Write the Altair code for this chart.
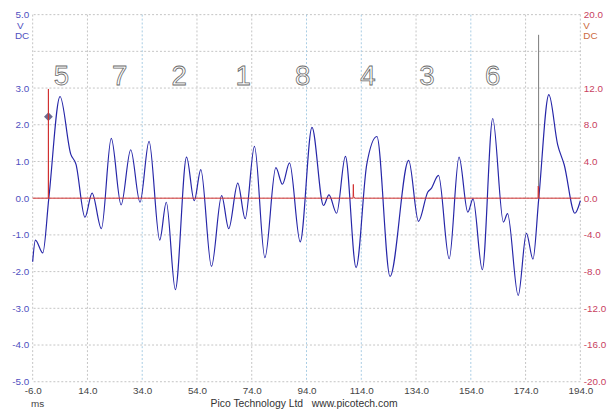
import altair as alt
import pandas as pd

# ---- data ----
wave_t = [-6.0, -5.0, -2.3, -0.1, 4.0, 7.9, 9.8, 13.1, 15.7, 19.1, 22.7, 26.3, 29.8, 33.2,
          36.5, 40.4, 42.8, 46.1, 50.2, 53.0, 55.4, 59.3, 63.0, 65.6, 68.9, 71.6, 75.0, 78.8,
          82.8, 85.2, 87.8, 91.7, 96.0, 100.2, 102.2, 105.0, 108.2, 112.1, 116.0, 119.7, 124.5,
          131.3, 134.9, 138.3, 139.5, 142.2, 146.1, 149.7, 152.9, 154.8, 158.2, 162.0, 165.9,
          167.4, 171.3, 174.3, 176.7, 178.8, 182.5, 185.7, 188.1, 192.0, 194.0]
wave_v = [-1.73, -1.14, -1.49, 0.0, 2.77, 1.20, 0.93, -0.52, 0.14, -0.83, 1.63, -0.18, 1.32, -0.11,
          1.55, -1.14, -0.11, -2.49, 1.12, -0.07, 0.78, -1.86, 0.07, -0.83, 0.41, -0.56, 1.41, -1.62,
          0.83, 0.38, 0.96, -1.19, 1.93, -0.20, 0.09, -0.41, 1.14, -1.89, 0.92, 1.68, -2.13,
          1.03, -0.63, 0.17, 0.26, 0.62, -1.65, 1.12, -0.38, -0.02, -1.95, 2.17, -0.65,
          -0.42, -2.65, -0.96, -1.66, -0.02, 2.82, 1.46, 0.91, -0.41, -0.07]

red_t = [-6.0, -0.3, -0.25, -0.2, 111.0, 111.1, 111.2, 111.6, 178.55, 178.6, 178.75, 178.85, 194.0]
red_v = [0.0, 0.0, 11.9, 0.0, 0.0, 1.5, 0.2, 0.0, 0.0, 1.3, 1.2, 0.0, 0.0]

digit_labels = ["5", "7", "2", "1", "8", "4", "3", "6"]
digit_t = [4.5, 25.8, 47.5, 70.9, 92.6, 116.4, 138.0, 162.0]
digit_v = [3.3, 3.3, 3.3, 3.3, 3.3, 3.3, 3.3, 3.3]

marker_t = [-0.25]
marker_v = [2.22]

ruler_t = [178.75]
ruler_top = [4.45]
ruler_bottom = [0.0]

x_ticks = [-6, 14, 34, 54, 74, 94, 114, 134, 154, 174, 194]
left_ticks = [5, 3, 2, 1, 0, -1, -2, -3, -4, -5]
right_ticks = [20, 12, 8, 4, 0, -4, -8, -12, -16, -20]
hgrid_v = [-5, -4, -3, -2, -1, 0, 1, 2, 3, 4, 5]
vgrid_gray = [-6, 14, 54, 74, 134, 174, 194]
vgrid_blue = [34, 94, 114, 154]

# ---- styling ----
W, H = 555, 372
FONT = "Liberation Sans"
LEFT_COL = "#5050c0"
RIGHT_COL = "#c84060"
UNIT_R_COL = "#cc6a40"
FMT = "replace(format(datum.value, '.1f'), '\u2212', '-')"

xs = alt.Scale(domain=[-6, 194], nice=False, zero=False)
yl = alt.Scale(domain=[-5, 5], nice=False, zero=False)
yr = alt.Scale(domain=[-20, 20], nice=False, zero=False)

AX_X = alt.Axis(values=x_ticks, labelExpr=FMT, domain=False, ticks=False, grid=False,
                labelColor="#444444", labelFont=FONT, labelFontSize=10, labelPadding=4,
                labelFlush=False, labelOverlap=False, title=None)
AX_Y = alt.Axis(values=left_ticks, labelExpr=FMT, domain=False, ticks=False, grid=False,
                labelColor=LEFT_COL, labelFont=FONT, labelFontSize=10, labelPadding=4,
                labelFlush=False, labelOverlap=False, title=None)
AX_R = alt.Axis(orient="right", values=right_ticks, labelExpr=FMT, domain=False, ticks=False,
                grid=False, labelColor=RIGHT_COL, labelFont=FONT, labelFontSize=10,
                labelPadding=3, labelFlush=False, labelOverlap=False, title=None)


def X(field):
    return alt.X(field, scale=xs, axis=AX_X)


def Y(field):
    return alt.Y(field, scale=yl, axis=AX_Y)


wave_df = pd.DataFrame({"t": wave_t, "v": wave_v})
red_df = pd.DataFrame({"t": red_t, "v": red_v})
dig_df = pd.DataFrame({"t": digit_t, "v": digit_v, "d": digit_labels})
mk_df = pd.DataFrame({"t": marker_t, "v": marker_v})
ru_df = pd.DataFrame({"t": ruler_t, "v": ruler_top, "v2": ruler_bottom})

hgrid = alt.Chart(pd.DataFrame({"v": hgrid_v})).mark_rule(
    color="#c4c4c4", strokeWidth=1, strokeDash=[2, 2]
).encode(y=Y("v:Q"))

vg_gray = alt.Chart(pd.DataFrame({"t": vgrid_gray})).mark_rule(
    color="#c4c4c4", strokeWidth=1, strokeDash=[2, 2]
).encode(x=X("t:Q"))

vg_blue = alt.Chart(pd.DataFrame({"t": vgrid_blue})).mark_rule(
    color="#a8cce4", strokeWidth=1, strokeDash=[2, 2]
).encode(x=X("t:Q"))

wave = alt.Chart(wave_df).mark_line(
    color="#2626a8", strokeWidth=1.2, interpolate="monotone"
).encode(x=X("t:Q"), y=Y("v:Q"))

ruler = alt.Chart(ru_df).mark_rule(color="#7a7a7a", strokeWidth=1).encode(
    x=X("t:Q"), y=Y("v:Q"), y2="v2:Q"
)

marker = alt.Chart(mk_df).mark_point(
    shape="diamond", filled=True, color="#6b6b8f", size=80, opacity=1
).encode(x=X("t:Q"), y=Y("v:Q"))

digits = alt.Chart(dig_df).mark_text(
    font=FONT, fontSize=28, fill="#ffffff", stroke="#6a6a6a", strokeWidth=0.8,
    baseline="middle", align="center"
).encode(x=X("t:Q"), y=Y("v:Q"), text="d:N")


def label(txt, x, y, color, size=10, align="left"):
    return alt.Chart(pd.DataFrame({"s": [txt]})).mark_text(
        font=FONT, fontSize=size, color=color, align=align, baseline="middle"
    ).encode(x=alt.value(x), y=alt.value(y), text="s:N")


texts = [
    label("V", -16, 12, LEFT_COL),
    label("DC", -18, 22, LEFT_COL),
    label("V", 558, 12, UNIT_R_COL),
    label("DC", 558, 22, UNIT_R_COL),
    label("ms", 5, 395, "#444444", 10, "center"),
    label("Pico Technology Ltd\u00a0\u00a0 www.picotech.com", 275, 395, "#333333", 10.5, "center"),
]

left = alt.layer(hgrid, vg_gray, vg_blue, wave, ruler, marker, digits, *texts)

red = alt.Chart(red_df).mark_line(color="#d03030", strokeWidth=1).encode(
    x=X("t:Q"),
    y=alt.Y("v:Q", scale=yr, axis=AX_R),
)

chart = alt.layer(left, red).resolve_scale(y="independent").properties(
    width=W, height=H,
    padding={"left": 25, "top": 4, "right": 27, "bottom": 32},
    autosize=alt.AutoSizeParams(type="none"),
    background="white",
).configure_view(stroke=None)

chart.save("out.html", embed_options={"renderer": "svg", "actions": False})
